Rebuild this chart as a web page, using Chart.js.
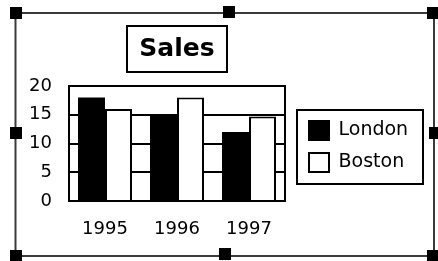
<!DOCTYPE html>
<html>
<head>
<meta charset="utf-8">
<script src="https://cdn.jsdelivr.net/npm/chart.js@4/dist/chart.umd.min.js"></script>
<style>
  html, body { margin: 0; padding: 0; background: #fff; }
  canvas { display: block; }
</style>
</head>
<body>
<canvas id="c" width="438" height="261"></canvas>
<script>
const categories = ['1995', '1996', '1997'];
const londonValues = [18, 15, 12];
const bostonValues = [16, 18, 14.7];
const yTickValues = [0, 5, 10, 15, 20];
const seriesNames = ['London', 'Boston'];
const chartTitle = 'Sales';

const FONT = '"DejaVu Sans", "Liberation Sans", sans-serif';

const decorations = {
  id: 'decorations',
  afterLayout(chart) {
    const lg = chart.legend;
    const dx = 296 - lg.left;
    lg.left += dx;
    lg.right = 432;
    lg.width = lg.right - lg.left;
    lg.top += 16; lg.bottom += 16;
  },
  afterDatasetsDraw(chart) {
    const ctx = chart.ctx, a = chart.chartArea;
    ctx.save();
    ctx.strokeStyle = '#000'; ctx.lineWidth = 2;
    ctx.strokeRect(a.left, a.top, a.right - a.left, a.bottom - a.top);
    ctx.restore();
  },
  afterDraw(chart) {
    const ctx = chart.ctx;
    ctx.save();
    ctx.strokeStyle = '#000'; ctx.lineWidth = 2;
    // title box
    const t = chart.titleBlock;
    const cx = Math.round((t.left + t.right) / 2);
    const cy = Math.round(t.top + t.options.padding.top + 15);
    ctx.strokeRect(cx - 50, cy - 23, 100, 46);
    // legend box
    const hb = chart.legend.legendHitBoxes[0];
    ctx.strokeRect(Math.round(hb.left) - 12, Math.round(hb.top) - 11, 126, 74);
    // selection frame
    ctx.strokeStyle = '#3a3a3a';
    ctx.strokeRect(15.5, 13, 418.5, 243);
    ctx.fillStyle = '#000';
    const handles = [[15.5, 13], [229, 12], [433, 13], [15.5, 133], [435, 133], [15.5, 256], [224.5, 254], [433, 256]];
    for (const [hx, hy] of handles) {
      ctx.fillRect(Math.round(hx - 6), Math.round(hy - 6), 12, 12);
    }
    ctx.restore();
  }
};

new Chart(document.getElementById('c'), {
  type: 'bar',
  data: {
    labels: categories,
    datasets: [
      { label: seriesNames[0], data: londonValues, backgroundColor: '#000', borderColor: '#000', borderWidth: 0 },
      { label: seriesNames[1], data: bostonValues, backgroundColor: '#fff', borderColor: '#000', borderWidth: 2 }
    ]
  },
  options: {
    responsive: false,
    animation: false,
    devicePixelRatio: 1,
    categoryPercentage: 0.75,
    barPercentage: 1,
    layout: { padding: { left: 0, top: 0, right: 58, bottom: 0 } },
    plugins: {
      tooltip: { enabled: false },
      title: {
        display: true,
        text: chartTitle,
        fullSize: false,
        color: '#000',
        font: { family: FONT, size: 25, weight: 'bold', lineHeight: 1.2 },
        padding: { top: 34, bottom: 22 }
      },
      legend: {
        position: 'right',
        labels: {
          color: '#000',
          boxWidth: 20,
          boxHeight: 19,
          padding: 13,
          font: { family: FONT, size: 19 },
          generateLabels(chart) {
            const items = Chart.defaults.plugins.legend.labels.generateLabels(chart);
            items.forEach(it => { it.lineWidth = 2; it.strokeStyle = '#000'; });
            return items;
          }
        }
      }
    },
    scales: {
      x: {
        type: 'category',
        grid: { display: false, drawTicks: false },
        border: { display: true, color: '#000', width: 2 },
        ticks: { color: '#000', font: { family: FONT, size: 18 }, padding: 18 },
        afterFit(s) { s.height = 60; }
      },
      y: {
        type: 'linear',
        min: 0, max: 20,
        afterBuildTicks(s) { s.ticks = yTickValues.map(v => ({ value: v })); },
        grid: { color: '#000', lineWidth: 2, drawTicks: false },
        border: { display: true, color: '#000', width: 2 },
        ticks: { color: '#000', font: { family: FONT, size: 18 }, padding: 17 },
        afterFit(s) { s.width = 69; }
      }
    }
  },
  plugins: [decorations]
});
</script>
</body>
</html>
